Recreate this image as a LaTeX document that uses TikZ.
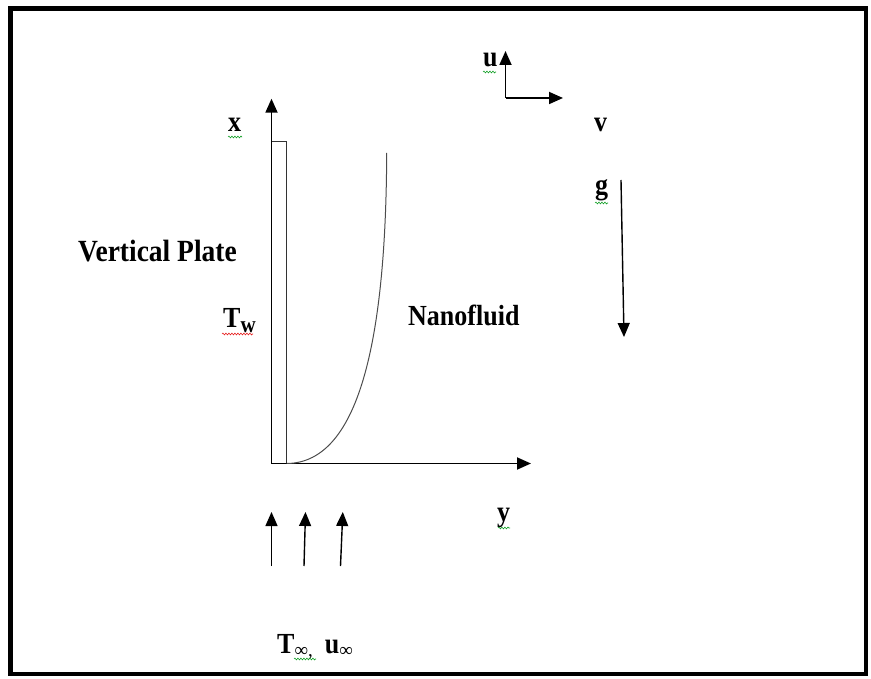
\documentclass[tikz,border=0pt]{standalone}
\usepackage{fontspec}
\setmainfont{Liberation Serif}
\usetikzlibrary{arrows.meta,decorations.pathmorphing}
\definecolor{spellgreen}{RGB}{20,160,40}
\definecolor{spellred}{RGB}{230,30,30}
\begin{document}
\begin{tikzpicture}[x=1pt,y=-1pt,
  lbl/.style={font=\bfseries\fontsize{26}{26}\selectfont, inner sep=0pt, anchor=base west},
  ax/.style={line width=1.8pt, -{Triangle[length=14pt,width=12pt]}},
  flow/.style={line width=1.4pt, -{Triangle[length=14pt,width=12pt]}},
  platebox/.style={line width=1.3pt, draw=black!80},
  profile/.style={line width=1pt, draw=black!70},
  squig/.style={decorate, decoration={snake, amplitude=0.9pt, segment length=3pt}, line width=0.6pt},
]
\newcommand{\tall}[1]{\scalebox{1}[1.12]{#1}}
\useasboundingbox (0,0) rectangle (871,679);
\draw[line width=4.5pt] (10.5,8.5) rectangle (866,674);

% coordinates
\coordinate (O) at (271.5,463.5);
\coordinate (xtip) at (271.5,98.7);
\coordinate (ytip) at (531,463.5);
\coordinate (pTop) at (286.7,141.7);
\coordinate (cStart) at (286.7,463.5);
\coordinate (cEnd) at (386.7,153);
\coordinate (uvO) at (505.5,98);
\coordinate (uTip) at (505.5,51);
\coordinate (vTip) at (563,98);
\coordinate (gS) at (621,180);
\coordinate (gE) at (624,337);
\coordinate (a1s) at (271.5,566);
\coordinate (a1e) at (271.5,512);
\coordinate (a2s) at (304,566);
\coordinate (a2e) at (305.5,512);
\coordinate (a3s) at (340.5,566);
\coordinate (a3e) at (342.8,512);

% plate and axes
\draw[platebox] (O) rectangle (pTop);
\draw[ax] (O) -- (xtip);
\draw[ax] (O) -- (ytip);
\draw[profile] (cStart) .. controls (362,463) and (386,330) .. (cEnd);

% u-v frame and gravity
\draw[ax] (uvO) -- (uTip);
\draw[ax] (uvO) -- (vTip);
\draw[flow] (gS) -- (gE);

% free stream arrows
\draw[flow] (a1s) -- (a1e);
\draw[flow] (a2s) -- (a2e);
\draw[flow] (a3s) -- (a3e);

% labels
\node[lbl] (lx) at (228,132) {\tall{x}};
\node[lbl, font=\bfseries\fontsize{27.5}{27.5}\selectfont] (lvp) at (78,262) {\tall{Vertical Plate}};
\node[lbl] (ltw) at (223,328) {\tall{T}\raisebox{-5pt}{\fontsize{21}{21}\selectfont\tall{w}}};
\node[lbl] (lnf) at (408,326) {\tall{Nanofluid}};
\node[lbl] (lu) at (483,67) {\tall{u}};
\node[lbl] (lv) at (594,132) {\tall{v}};
\node[lbl] (lg) at (595,195) {\tall{g}};
\node[lbl] (ly) at (497,521) {\tall{y}};
\node[lbl] (linf) at (277,653) {\tall{T}\raisebox{-3pt}{\fontsize{19}{19}\selectfont\mdseries ∞,}\hspace{12pt}\tall{u}\raisebox{-3pt}{\fontsize{19}{19}\selectfont\mdseries ∞}};

% spell-check squiggles
\draw[squig, spellgreen] (228,137) -- (242,137);
\draw[squig, spellgreen] (483,72) -- (496,72);
\draw[squig, spellgreen] (595,203) -- (608,203);
\draw[squig, spellgreen] (498,528) -- (510,528);
\draw[squig, spellgreen] (294,659) -- (316,659);
\draw[squig, spellred] (222,334) -- (253,334);
\end{tikzpicture}
\end{document}
